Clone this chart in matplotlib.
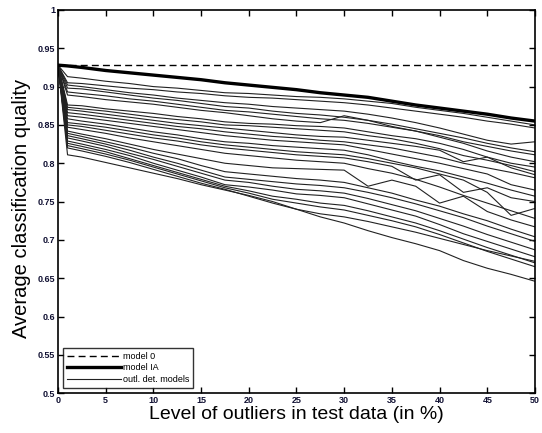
import numpy as np
import matplotlib.pyplot as plt

plt.rcParams['font.family'] = ['Liberation Sans', 'DejaVu Sans']

x = [0, 1, 2.5, 5, 7.5, 10, 12.5, 15, 17.5, 20, 22.5, 25, 27.5, 30,
     32.5, 35, 37.5, 40, 42.5, 45, 47.5, 50]

model_0 = [0.928] * len(x)
model_ia = [0.928, 0.927, 0.925, 0.921, 0.918, 0.915, 0.912, 0.909, 0.905, 0.902, 0.899,
            0.896, 0.892, 0.889, 0.886, 0.881, 0.876, 0.872, 0.868, 0.864, 0.859, 0.855]

# outlier detection models (one row per model)
outl_models = [
    [0.928, 0.913, 0.911, 0.907, 0.904, 0.900, 0.898, 0.895, 0.892, 0.891, 0.889, 0.887, 0.886, 0.884, 0.881, 0.878, 0.873, 0.869, 0.865, 0.860, 0.855, 0.850],
    [0.928, 0.905, 0.904, 0.901, 0.898, 0.896, 0.893, 0.891, 0.888, 0.886, 0.885, 0.883, 0.881, 0.879, 0.876, 0.872, 0.868, 0.864, 0.860, 0.855, 0.851, 0.846],
    [0.928, 0.902, 0.900, 0.896, 0.892, 0.889, 0.885, 0.882, 0.879, 0.877, 0.874, 0.872, 0.870, 0.868, 0.864, 0.859, 0.853, 0.846, 0.838, 0.830, 0.825, 0.828],
    [0.928, 0.898, 0.897, 0.893, 0.889, 0.885, 0.882, 0.878, 0.874, 0.872, 0.868, 0.865, 0.863, 0.860, 0.856, 0.851, 0.845, 0.839, 0.833, 0.826, 0.820, 0.815],
    [0.928, 0.893, 0.891, 0.888, 0.884, 0.881, 0.877, 0.873, 0.869, 0.867, 0.864, 0.861, 0.858, 0.856, 0.852, 0.847, 0.842, 0.836, 0.828, 0.822, 0.816, 0.811],
    [0.928, 0.889, 0.887, 0.883, 0.880, 0.877, 0.873, 0.869, 0.866, 0.862, 0.858, 0.855, 0.853, 0.862, 0.856, 0.848, 0.842, 0.834, 0.826, 0.816, 0.808, 0.802],
    [0.928, 0.876, 0.875, 0.871, 0.868, 0.865, 0.861, 0.858, 0.854, 0.852, 0.851, 0.849, 0.848, 0.846, 0.841, 0.836, 0.832, 0.826, 0.818, 0.808, 0.800, 0.795],
    [0.928, 0.873, 0.871, 0.868, 0.864, 0.860, 0.857, 0.854, 0.850, 0.849, 0.847, 0.845, 0.843, 0.841, 0.836, 0.832, 0.826, 0.819, 0.810, 0.804, 0.797, 0.789],
    [0.928, 0.870, 0.868, 0.864, 0.860, 0.856, 0.852, 0.849, 0.846, 0.843, 0.840, 0.837, 0.835, 0.834, 0.830, 0.826, 0.822, 0.817, 0.802, 0.808, 0.794, 0.785],
    [0.928, 0.866, 0.864, 0.860, 0.856, 0.852, 0.848, 0.845, 0.841, 0.838, 0.835, 0.833, 0.830, 0.828, 0.824, 0.820, 0.814, 0.808, 0.800, 0.794, 0.788, 0.781],
    [0.928, 0.862, 0.860, 0.856, 0.852, 0.848, 0.844, 0.840, 0.836, 0.833, 0.830, 0.828, 0.826, 0.824, 0.818, 0.812, 0.806, 0.800, 0.793, 0.786, 0.772, 0.765],
    [0.928, 0.858, 0.855, 0.851, 0.846, 0.841, 0.837, 0.832, 0.828, 0.826, 0.823, 0.821, 0.819, 0.817, 0.811, 0.803, 0.796, 0.790, 0.782, 0.774, 0.765, 0.757],
    [0.928, 0.853, 0.851, 0.847, 0.842, 0.837, 0.833, 0.828, 0.824, 0.821, 0.818, 0.815, 0.813, 0.811, 0.806, 0.800, 0.794, 0.786, 0.778, 0.762, 0.732, 0.741],
    [0.928, 0.850, 0.848, 0.843, 0.838, 0.833, 0.829, 0.824, 0.820, 0.817, 0.814, 0.811, 0.809, 0.807, 0.802, 0.796, 0.778, 0.785, 0.762, 0.768, 0.755, 0.750],
    [0.928, 0.847, 0.844, 0.839, 0.833, 0.828, 0.823, 0.818, 0.813, 0.810, 0.807, 0.804, 0.802, 0.800, 0.793, 0.787, 0.779, 0.769, 0.758, 0.748, 0.738, 0.728],
    [0.928, 0.842, 0.838, 0.832, 0.825, 0.818, 0.812, 0.806, 0.800, 0.797, 0.794, 0.793, 0.792, 0.791, 0.770, 0.778, 0.770, 0.748, 0.757, 0.737, 0.726, 0.717],
    [0.928, 0.839, 0.835, 0.828, 0.821, 0.813, 0.806, 0.797, 0.789, 0.786, 0.783, 0.780, 0.778, 0.775, 0.768, 0.761, 0.752, 0.744, 0.734, 0.725, 0.714, 0.704],
    [0.928, 0.836, 0.832, 0.825, 0.817, 0.808, 0.800, 0.791, 0.782, 0.779, 0.776, 0.773, 0.771, 0.768, 0.762, 0.755, 0.747, 0.738, 0.729, 0.718, 0.708, 0.698],
    [0.928, 0.833, 0.829, 0.822, 0.813, 0.805, 0.796, 0.787, 0.778, 0.775, 0.770, 0.766, 0.764, 0.761, 0.754, 0.746, 0.738, 0.728, 0.718, 0.707, 0.697, 0.687],
    [0.928, 0.829, 0.825, 0.818, 0.810, 0.800, 0.791, 0.782, 0.772, 0.769, 0.765, 0.760, 0.758, 0.755, 0.747, 0.739, 0.731, 0.720, 0.708, 0.698, 0.688, 0.678],
    [0.928, 0.826, 0.822, 0.815, 0.806, 0.797, 0.788, 0.779, 0.770, 0.764, 0.757, 0.753, 0.748, 0.745, 0.738, 0.730, 0.722, 0.712, 0.701, 0.690, 0.680, 0.670],
    [0.928, 0.823, 0.819, 0.812, 0.804, 0.795, 0.786, 0.777, 0.768, 0.761, 0.753, 0.748, 0.743, 0.739, 0.732, 0.725, 0.717, 0.707, 0.696, 0.685, 0.675, 0.665],
    [0.928, 0.820, 0.816, 0.809, 0.801, 0.792, 0.783, 0.774, 0.766, 0.757, 0.748, 0.740, 0.734, 0.730, 0.724, 0.717, 0.710, 0.702, 0.694, 0.686, 0.679, 0.672],
    [0.928, 0.811, 0.808, 0.801, 0.794, 0.787, 0.780, 0.772, 0.765, 0.758, 0.750, 0.740, 0.730, 0.722, 0.712, 0.703, 0.695, 0.686, 0.673, 0.663, 0.655, 0.646],
]

xticks = [0, 5, 10, 15, 20, 25, 30, 35, 40, 45, 50]
yticks = [0.5, 0.55, 0.6, 0.65, 0.7, 0.75, 0.8, 0.85, 0.9, 0.95, 1]
yticklabels = ['0.5', '0.55', '0.6', '0.65', '0.7', '0.75', '0.8', '0.85', '0.9', '0.95', '1']

fig = plt.figure(figsize=(5.42, 4.33), dpi=100)
ax = fig.add_axes([0.107, 0.092, 0.88, 0.885])

for i, row in enumerate(outl_models):
    ax.plot(x, row, color='#222222', linewidth=0.8,
            label='outl. det. models' if i == 0 else None, zorder=2)
ax.plot(x, model_ia, color='black', linewidth=2.4, label='model IA', zorder=3)
ax.plot(x, model_0, color='black', linewidth=1.0, linestyle=(0, (5, 3)),
        label='model 0', zorder=3)

ax.set_xlim(0, 50)
ax.set_ylim(0.5, 1)
ax.set_xticks(xticks)
ax.set_yticks(yticks)
ax.set_yticklabels(yticklabels)
ax.tick_params(direction='in', length=4, width=1, top=True, right=True,
               labelsize=6.5, pad=2, labelcolor='#111133')
for lab in ax.get_xticklabels() + ax.get_yticklabels():
    lab.set_fontweight('bold')
for s in ax.spines.values():
    s.set_linewidth(1.2)

ax.set_xlabel('Level of outliers in test data (in %)', fontsize=14, labelpad=1)
ax.set_ylabel('Average classification quality', fontsize=14.5)
ax.yaxis.set_label_coords(-0.056, 0.483)

# legend order as in the picture
h, l = ax.get_legend_handles_labels()
order = [l.index('model 0'), l.index('model IA'), l.index('outl. det. models')]
leg = ax.legend([h[k] for k in order], [l[k] for k in order], loc='lower left',
                fontsize=6.5, frameon=True, fancybox=False, borderaxespad=0.6,
                handlelength=6, handletextpad=0.2, labelspacing=0.3)
leg.get_frame().set_edgecolor('black')
leg.get_frame().set_linewidth(1.0)

fig.savefig('out.png', dpi=100)
